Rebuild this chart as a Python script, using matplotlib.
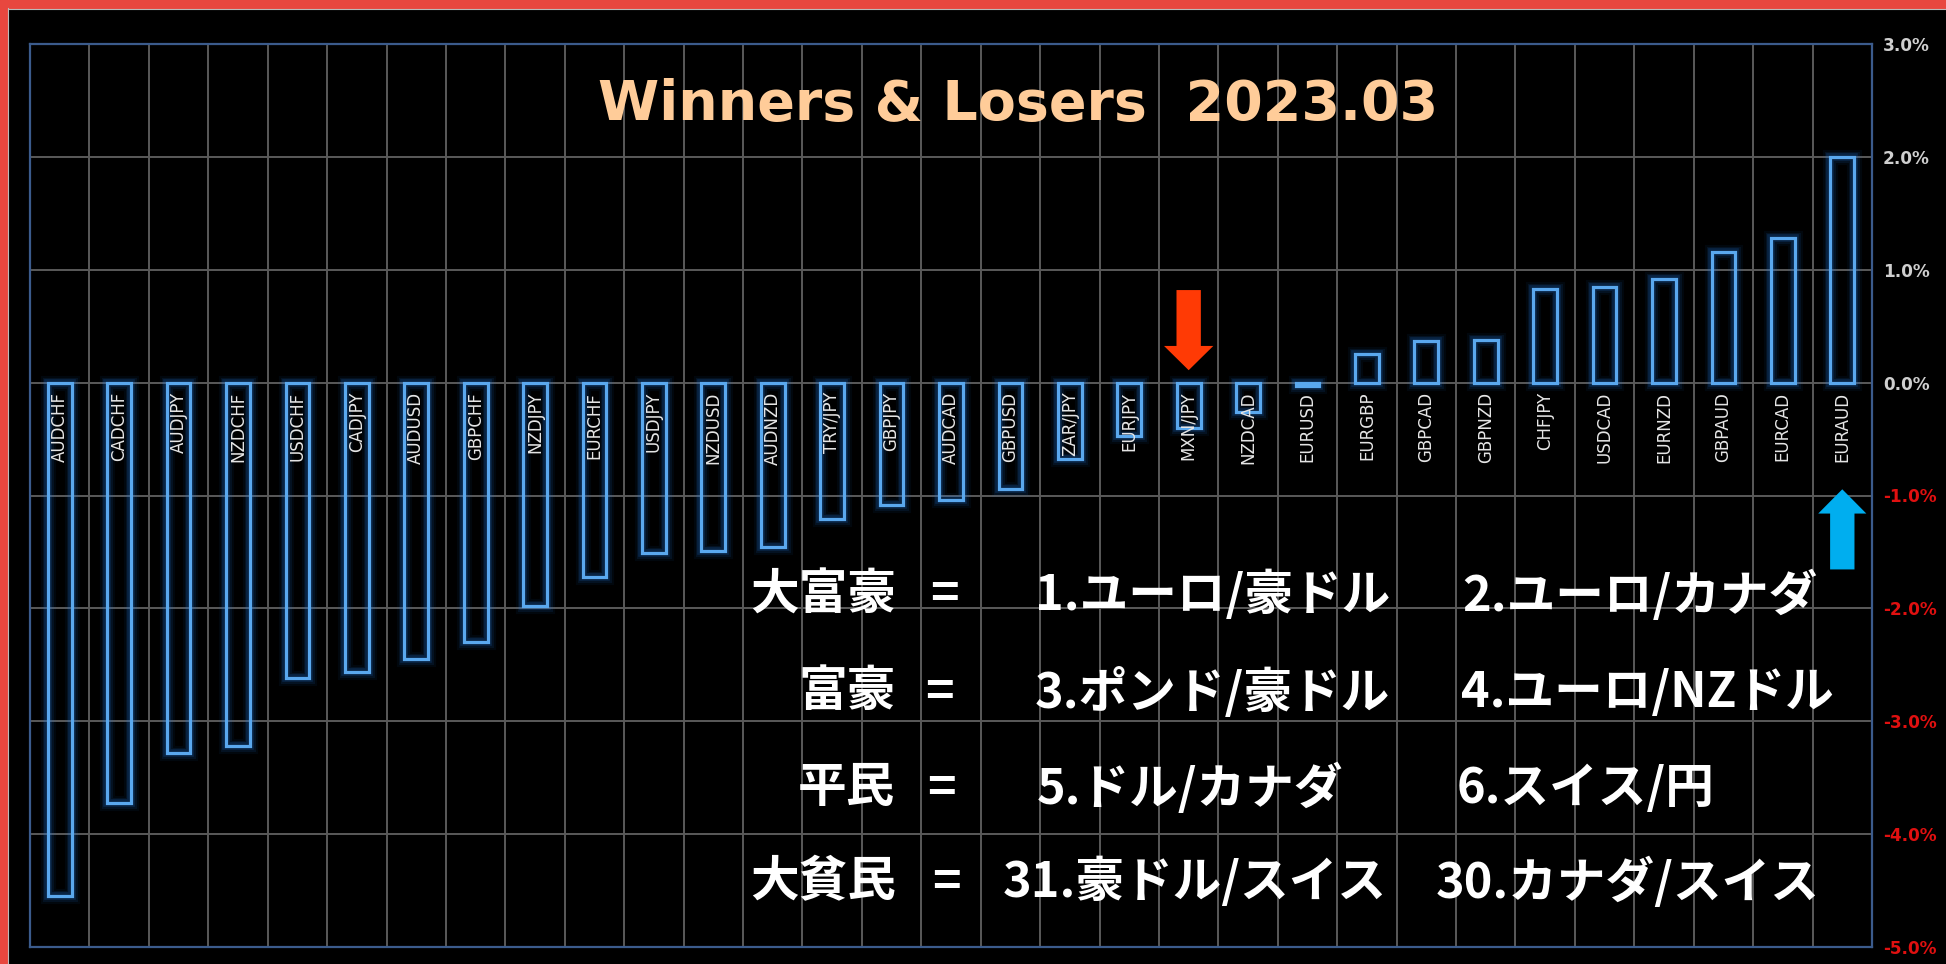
import numpy as np
import matplotlib
matplotlib.use("Agg")
import matplotlib.pyplot as plt
from matplotlib.patches import Rectangle, FancyArrow

# ---------------- data ----------------
pairs = ["AUDCHF", "CADCHF", "AUDJPY", "NZDCHF", "USDCHF", "CADJPY", "AUDUSD",
         "GBPCHF", "NZDJPY", "EURCHF", "USDJPY", "NZDUSD", "AUDNZD", "TRY/JPY",
         "GBPJPY", "AUDCAD", "GBPUSD", "ZAR/JPY", "EURJPY", "MXN/JPY", "NZDCAD",
         "EURUSD", "EURGBP", "GBPCAD", "GBPNZD", "CHFJPY", "USDCAD", "EURNZD",
         "GBPAUD", "EURCAD", "EURAUD"]
changes = [-4.55, -3.72, -3.28, -3.22, -2.62, -2.56, -2.45, -2.30, -1.98, -1.72,
           -1.51, -1.49, -1.46, -1.21, -1.08, -1.04, -0.945, -0.68, -0.47, -0.40,
           -0.26, -0.03, 0.25, 0.37, 0.38, 0.83, 0.85, 0.92, 1.16, 1.28, 2.00]
y_ticks = [-5, -4, -3, -2, -1, 0, 1, 2, 3]
title = "Winners & Losers  2023.03"

rank_names = ["大富豪", "富豪", "平民", "大貧民"]
rank_first = ["1.ユーロ/豪ドル", "3.ポンド/豪ドル", "5.ドル/カナダ", "31.豪ドル/スイス"]
rank_second = ["2.ユーロ/カナダ", "4.ユーロ/NZドル", "6.スイス/円", "30.カナダ/スイス"]
down_arrow_pair = "MXN/JPY"
up_arrow_pair = "EURAUD"

# ---------------- figure ----------------
W, H = 1946, 964
fig = plt.figure(figsize=(W / 100, H / 100), dpi=100, facecolor="black")

# red frame (top / left)
fig.patches.append(Rectangle((0, 1 - 8 / H), 1, 8 / H, transform=fig.transFigure,
                             color="#e8473f", zorder=0))
fig.patches.append(Rectangle((0, 0), 7 / W, 1, transform=fig.transFigure,
                             color="#e8473f", zorder=0))
fig.lines.append(plt.Line2D([7.5 / W, 7.5 / W], [0, 1 - 8 / H], transform=fig.transFigure,
                            color="#bbbbbb", lw=0.8))
fig.lines.append(plt.Line2D([7.5 / W, 1], [1 - 8.5 / H, 1 - 8.5 / H], transform=fig.transFigure,
                            color="#bbbbbb", lw=0.8))

L, R, T, B = 30, 1872, 44, 947
ax = fig.add_axes([L / W, 1 - B / H, (R - L) / W, (B - T) / H])
ax.set_facecolor("black")

n = len(pairs)
x = np.arange(n)
ax.set_xlim(-0.5, n - 0.5)
ax.set_ylim(min(y_ticks), max(y_ticks))

# grid
ax.set_xticks([])
ax.set_xticks(np.arange(-0.5, n, 1.0), minor=True)
ax.set_yticks(y_ticks)
ax.grid(which="minor", axis="x", color="#5a5a5a", lw=1.4)
ax.grid(which="major", axis="y", color="#5a5a5a", lw=1.4)
ax.set_axisbelow(True)
ax.tick_params(axis="x", which="both", length=0, labelbottom=False)

for s in ax.spines.values():
    s.set_color("#3b5b8c")
    s.set_linewidth(1.6)

# right-side tick labels
ax.yaxis.tick_right()
ax.tick_params(axis="y", length=0, pad=8)
ax.set_yticklabels([f"{v:.1f}%" for v in y_ticks], fontsize=12.2, fontweight="bold",
                   family="DejaVu Sans")
for lab, v in zip(ax.get_yticklabels(), y_ticks):
    lab.set_color("#e01010" if v < 0 else "#cfcfcf")

# glowing hollow bars
bw = 0.40
for lw, a in [(11, 0.06), (8, 0.10), (5.5, 0.18)]:
    ax.bar(x, changes, width=bw, fill=False, edgecolor="#1f78e0", lw=lw, alpha=a, zorder=3)
ax.bar(x, changes, width=bw, fill=False, edgecolor="#5aa8ee", lw=2.3, zorder=4)

# category labels inside plot below zero line
for xi, name in zip(x, pairs):
    ax.text(xi, -0.08, name, rotation=90, ha="center", va="top", fontsize=12,
            color="#e6e6e6", family="DejaVu Sans", zorder=5)

# arrows
i_down = pairs.index(down_arrow_pair)
i_up = pairs.index(up_arrow_pair)
ax.add_patch(FancyArrow(i_down, 0.82, 0, -0.71, width=0.41, head_width=0.83,
                        head_length=0.215, length_includes_head=True,
                        color="#ff3a05", lw=0, zorder=6))
ax.add_patch(FancyArrow(i_up, -1.655, 0, 0.71, width=0.41, head_width=0.81,
                        head_length=0.215, length_includes_head=True,
                        color="#00aeef", lw=0, zorder=6))

# title
fig.text(1018 / W, 1 - 105 / H, title, color="#ffcc99", fontsize=40,
         fontweight="bold", ha="center", va="center", family="DejaVu Sans")

# Japanese ranking text
jp = ["Noto Sans CJK JP", "DejaVu Sans"]
row_y = [595, 692, 788, 882]
name_x = [750, 798, 798, 750]
eq_x = [930, 925, 927, 932]
first_x = [1035, 1035, 1037, 1003]
second_x = [1462, 1461, 1457, 1436]
fs = 35
for k in range(len(rank_names)):
    yy = 1 - row_y[k] / H
    fig.text(name_x[k] / W, yy, rank_names[k], color="white", fontsize=fs,
             fontweight="bold", ha="left", va="center", family=jp)
    fig.text(eq_x[k] / W, yy, "=", color="white", fontsize=fs,
             fontweight="bold", ha="left", va="center", family=jp)
    fig.text(first_x[k] / W, yy, rank_first[k], color="white", fontsize=fs,
             fontweight="bold", ha="left", va="center", family=jp)
    fig.text(second_x[k] / W, yy, rank_second[k], color="white", fontsize=fs,
             fontweight="bold", ha="left", va="center", family=jp)

fig.savefig("out.png", dpi=100, facecolor="black")
